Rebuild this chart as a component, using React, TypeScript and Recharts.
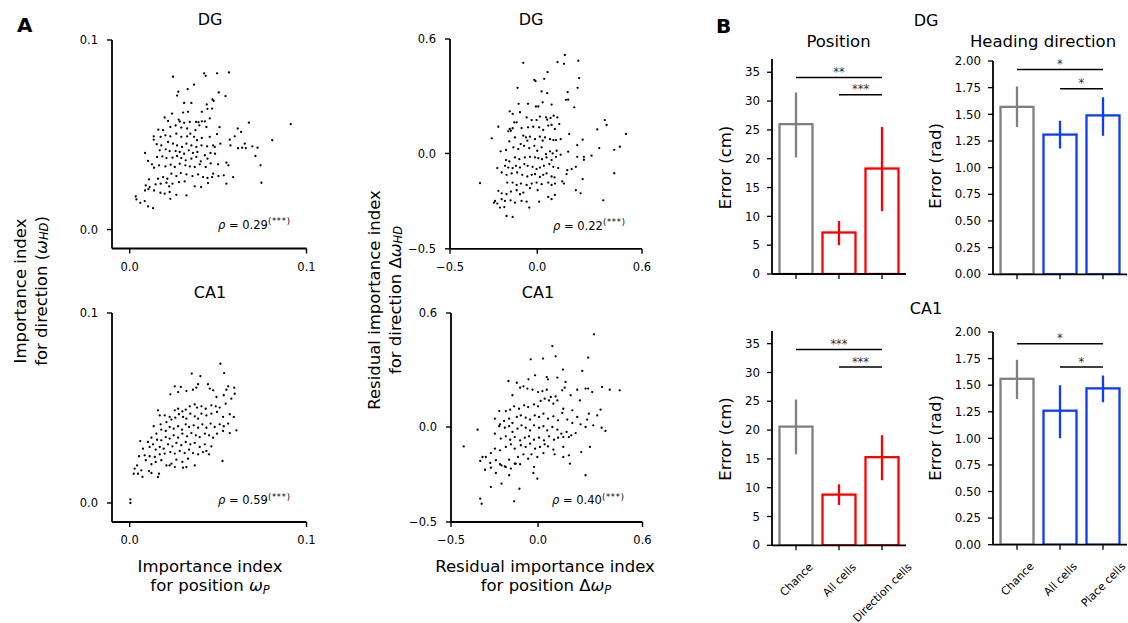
import React from "react";
import { ScatterChart, Scatter, XAxis, YAxis, BarChart, Bar, ReferenceLine } from "recharts";

// scatter points [x, y]
const dgImportance: [number, number][] = [
  [.0245,.0806],[.0421,.0824],[.0430,.0811],[.0494,.0824],[.0562,.0829],[.0364,.0765],[.0328,.0741],[.0275,.0727],[.0268,.0707],[.0504,.0723],
  [.0542,.0704],[.0468,.0686],[.0475,.0679],[.0308,.0668],[.0349,.0668],[.0436,.0660],[.0440,.0637],[.0466,.0638],[.0240,.0612],[.0302,.0617],
  [.0330,.0621],[.0408,.0621],[.0453,.0586],[.0198,.0591],[.0217,.0573],[.0277,.0580],[.0283,.0570],[.0308,.0563],[.0340,.0568],[.0375,.0568],
  [.0389,.0566],[.0408,.0571],[.0425,.0571],[.0674,.0564],[.0911,.0556],[.0162,.0527],[.0189,.0524],[.0230,.0541],[.0260,.0549],[.0292,.0538],
  [.0325,.0533],[.0343,.0506],[.0372,.0524],[.0394,.0550],[.0434,.0541],[.0508,.0540],[.0611,.0533],[.0630,.0515],[.0594,.0492],[.0651,.0453],
  [.0806,.0471],[.0136,.0492],[.0136,.0474],[.0175,.0489],[.0202,.0497],[.0230,.0492],[.0264,.0506],[.0292,.0489],[.0325,.0492],[.0364,.0489],
  [.0381,.0471],[.0408,.0483],[.0453,.0489],[.0494,.0503],[.0566,.0474],[.0472,.0444],[.0153,.0450],[.0179,.0444],[.0217,.0462],[.0245,.0453],
  [.0268,.0444],[.0296,.0436],[.0321,.0453],[.0349,.0444],[.0377,.0436],[.0406,.0444],[.0438,.0439],[.0481,.0436],[.0513,.0453],[.0570,.0444],
  [.0613,.0429],[.0636,.0432],[.0657,.0430],[.0694,.0439],[.0723,.0432],[.0711,.0388],[.0087,.0404],[.0170,.0418],[.0204,.0423],[.0226,.0414],
  [.0260,.0414],[.0283,.0409],[.0308,.0400],[.0334,.0418],[.0358,.0404],[.0383,.0409],[.0425,.0392],[.0457,.0404],[.0483,.0400],[.0155,.0383],
  [.0185,.0386],[.0208,.0377],[.0242,.0379],[.0268,.0388],[.0292,.0377],[.0317,.0365],[.0349,.0374],[.0377,.0383],[.0402,.0360],[.0440,.0374],
  [.0458,.0349],[.0500,.0344],[.0547,.0353],[.0558,.0339],[.0104,.0362],[.0126,.0344],[.0138,.0326],[.0166,.0339],[.0202,.0333],[.0232,.0342],
  [.0255,.0330],[.0283,.0347],[.0315,.0339],[.0340,.0333],[.0368,.0330],[.0396,.0344],[.0430,.0330],[.0472,.0295],[.0502,.0282],[.0532,.0286],
  [.0740,.0339],[.0109,.0265],[.0160,.0268],[.0189,.0277],[.0213,.0268],[.0236,.0295],[.0264,.0282],[.0289,.0298],[.0321,.0291],[.0355,.0282],
  [.0387,.0291],[.0415,.0277],[.0440,.0272],[.0466,.0277],[.0585,.0277],[.0745,.0247],[.0091,.0233],[.0113,.0224],[.0147,.0238],[.0175,.0242],
  [.0208,.0247],[.0223,.0228],[.0242,.0242],[.0279,.0250],[.0311,.0254],[.0368,.0228],[.0404,.0224],[.0443,.0245],[.0547,.0242],[.0087,.0206],
  [.0106,.0213],[.0138,.0206],[.0174,.0194],[.0198,.0189],[.0226,.0198],[.0264,.0183],[.0321,.0180],[.0034,.0175],[.0038,.0159],[.0060,.0141],
  [.0085,.0150],[.0104,.0122],[.0132,.0113],[.0230,.0162],
];

const dgResidual: [number, number][] = [
  [-0.080,0.475],[0.116,0.479],[0.153,0.470],[0.158,0.516],[0.235,0.486],[0.059,0.426],[0.040,0.391],[-0.010,0.379],[-0.017,0.386],[0.240,0.395],
  [-0.113,0.344],[0.025,0.325],[0.057,0.316],[0.174,0.321],[0.231,0.344],[0.164,0.281],[0.177,0.282],[0.212,0.242],[0.082,0.256],[0.031,0.268],
  [-0.008,0.246],[0.006,0.246],[-0.053,0.260],[-0.107,0.260],[-0.158,0.221],[-0.141,0.207],[-0.099,0.216],[-0.061,0.189],[-0.032,0.175],[-0.004,0.175],
  [0.015,0.193],[0.050,0.189],[0.057,0.177],[0.076,0.186],[0.094,0.198],[0.115,0.189],[-0.223,0.140],[-0.158,0.128],[-0.141,0.132],[-0.132,0.163],
  [-0.118,0.163],[-0.090,0.133],[-0.053,0.137],[-0.023,0.140],[0.011,0.137],[0.034,0.123],[0.063,0.146],[0.082,0.149],[0.101,0.128],[0.126,0.154],
  [0.387,0.175],[0.397,0.149],[0.344,0.126],[0.508,0.102],[-0.261,0.079],[-0.166,0.116],[-0.151,0.119],[-0.160,0.063],[-0.128,0.084],[-0.080,0.093],
  [-0.065,0.084],[-0.057,0.067],[-0.042,0.088],[-0.013,0.075],[0.015,0.088],[0.031,0.067],[0.044,0.084],[0.073,0.075],[0.092,0.070],[0.107,0.070],
  [0.134,0.075],[0.183,0.102],[0.260,0.072],[0.229,0.044],[0.355,0.028],[0.473,0.035],[0.441,0.019],[-0.210,0.011],[-0.179,0.018],[-0.137,0.032],
  [-0.109,0.023],[-0.095,0.049],[-0.076,0.040],[-0.046,0.028],[-0.017,0.040],[0.000,0.014],[0.025,0.032],[0.050,-0.004],[0.073,0.011],[0.088,0.000],
  [0.111,0.014],[0.134,-0.007],[0.177,0.009],[0.229,-0.018],[0.267,-0.018],[0.311,-0.012],[0.267,-0.033],[-0.179,-0.035],[-0.160,-0.042],[-0.128,-0.021],
  [-0.103,-0.030],[-0.071,-0.021],[-0.042,-0.018],[-0.013,-0.021],[0.006,-0.025],[0.027,-0.030],[0.053,-0.021],[0.082,-0.035],[0.107,-0.018],[-0.229,-0.077],
  [-0.185,-0.065],[-0.166,-0.074],[-0.141,-0.077],[-0.122,-0.065],[-0.099,-0.074],[-0.074,-0.056],[-0.055,-0.065],[-0.027,-0.070],[-0.004,-0.082],[0.015,-0.074],
  [0.038,-0.065],[0.069,-0.056],[0.092,-0.070],[0.120,-0.077],[0.172,-0.088],[0.197,-0.082],[0.221,-0.070],[-0.328,-0.156],[-0.204,-0.100],[-0.176,-0.112],
  [-0.147,-0.105],[-0.115,-0.100],[-0.086,-0.112],[-0.057,-0.121],[-0.032,-0.112],[-0.013,-0.109],[0.015,-0.123],[0.034,-0.112],[0.053,-0.105],[0.082,-0.121],
  [0.099,-0.126],[0.143,-0.147],[0.153,-0.158],[0.168,-0.109],[0.260,-0.135],[0.441,-0.104],[-0.172,-0.153],[-0.141,-0.153],[-0.118,-0.165],[-0.094,-0.158],
  [-0.061,-0.165],[-0.032,-0.158],[-0.004,-0.153],[0.025,-0.161],[0.063,-0.153],[0.082,-0.165],[0.101,-0.158],[0.221,-0.193],[0.248,-0.209],[-0.223,-0.196],
  [-0.204,-0.209],[-0.176,-0.214],[-0.151,-0.200],[-0.118,-0.193],[-0.080,-0.205],[-0.042,-0.182],[0.002,-0.193],[-0.242,-0.249],[-0.229,-0.263],[-0.204,-0.240],
  [-0.185,-0.249],[-0.153,-0.246],[-0.128,-0.258],[-0.099,-0.214],[-0.090,-0.249],[-0.061,-0.253],[-0.046,-0.284],[0.011,-0.253],[0.063,-0.228],[0.082,-0.240],
  [0.101,-0.218],[0.378,-0.246],[-0.214,-0.284],[-0.189,-0.281],[-0.176,-0.328],[-0.141,-0.333],[-0.248,-0.258],
];

const ca1Importance: [number, number][] = [
  [.0513,.0733],[.0534,.0684],[.0400,.0667],[.0351,.0681],[.0387,.0625],[.0443,.0625],[.0289,.0611],[.0255,.0614],[.0230,.0572],[.0274,.0584],
  [.0321,.0589],[.0358,.0596],[.0377,.0607],[.0453,.0602],[.0472,.0593],[.0557,.0614],[.0547,.0596],[.0591,.0607],[.0594,.0575],[.0491,.0558],
  [.0532,.0567],[.0575,.0549],[.0160,.0488],[.0198,.0461],[.0226,.0453],[.0255,.0488],[.0274,.0496],[.0298,.0482],[.0317,.0491],[.0340,.0509],
  [.0368,.0519],[.0381,.0502],[.0406,.0509],[.0430,.0496],[.0462,.0514],[.0487,.0509],[.0509,.0502],[.0543,.0523],[.0136,.0404],[.0170,.0461],
  [.0175,.0414],[.0208,.0426],[.0236,.0439],[.0258,.0449],[.0279,.0467],[.0302,.0453],[.0321,.0444],[.0343,.0470],[.0368,.0456],[.0387,.0444],
  [.0406,.0470],[.0434,.0461],[.0462,.0470],[.0494,.0479],[.0528,.0453],[.0566,.0467],[.0589,.0453],[.0604,.0382],[.0566,.0368],[.0123,.0344],
  [.0151,.0365],[.0179,.0386],[.0204,.0379],[.0226,.0400],[.0249,.0391],[.0274,.0404],[.0296,.0386],[.0317,.0414],[.0336,.0400],[.0362,.0409],
  [.0387,.0396],[.0411,.0414],[.0434,.0396],[.0458,.0418],[.0481,.0400],[.0509,.0414],[.0532,.0404],[.0557,.0418],[.0060,.0326],[.0104,.0321],
  [.0132,.0309],[.0155,.0333],[.0179,.0330],[.0204,.0347],[.0226,.0339],[.0249,.0356],[.0274,.0344],[.0298,.0365],[.0325,.0351],[.0349,.0368],
  [.0374,.0356],[.0396,.0347],[.0425,.0365],[.0449,.0356],[.0472,.0344],[.0494,.0365],[.0528,.0379],[.0462,.0298],[.0075,.0286],[.0113,.0295],
  [.0147,.0281],[.0170,.0295],[.0192,.0286],[.0217,.0309],[.0242,.0298],[.0264,.0316],[.0292,.0304],[.0317,.0321],[.0343,.0309],[.0368,.0316],
  [.0396,.0295],[.0425,.0309],[.0434,.0274],[.0053,.0246],[.0085,.0251],[.0113,.0246],[.0142,.0242],[.0170,.0256],[.0198,.0260],[.0230,.0268],
  [.0255,.0260],[.0283,.0274],[.0311,.0263],[.0336,.0281],[.0358,.0263],[.0387,.0256],[.0415,.0268],[.0449,.0256],[.0091,.0225],[.0123,.0204],
  [.0147,.0216],[.0179,.0225],[.0208,.0198],[.0236,.0207],[.0264,.0228],[.0298,.0216],[.0330,.0233],[.0368,.0198],[.0525,.0221],[.0028,.0181],
  [.0042,.0198],[.0066,.0172],[.0109,.0168],[.0123,.0158],[.0072,.0137],[.0160,.0137],[.0166,.0154],[.0255,.0189],[.0226,.0198],[.0302,.0186],
  [.0321,.0189],[.0004,.0019],[.0004,.0000],[.0023,.0154],[.0047,.0154],
];

const ca1Residual: [number, number][] = [
  [0.321,0.488],[0.082,0.426],[0.101,0.372],[-0.042,0.356],[0.029,0.360],[0.288,0.365],[0.143,0.302],[0.254,0.295],[-0.170,0.242],[-0.122,0.233],
  [-0.055,0.251],[-0.017,0.272],[0.050,0.263],[0.057,0.251],[0.111,0.260],[0.158,0.237],[0.225,0.196],[0.273,0.202],[0.288,0.202],[0.311,0.184],
  [0.368,0.211],[0.412,0.196],[0.469,0.193],[-0.147,0.167],[-0.103,0.207],[-0.084,0.214],[-0.061,0.202],[-0.032,0.196],[0.000,0.184],[0.025,0.189],
  [0.050,0.196],[0.073,0.158],[0.101,0.161],[0.139,0.193],[0.153,0.207],[0.187,0.167],[0.240,0.140],[0.359,0.091],[0.340,0.061],[0.292,0.070],
  [-0.223,0.084],[-0.185,0.084],[-0.160,0.091],[-0.137,0.109],[-0.109,0.096],[-0.080,0.114],[-0.057,0.105],[-0.023,0.119],[0.000,0.109],[0.015,0.137],
  [0.038,0.149],[0.063,0.140],[0.088,0.123],[0.111,0.140],[0.145,0.096],[0.197,0.088],[0.225,0.053],[0.282,0.039],[0.317,0.009],[0.365,-0.004],
  [0.387,-0.021],[-0.248,0.044],[-0.218,0.014],[-0.195,0.032],[-0.166,0.044],[-0.147,0.021],[-0.122,0.053],[-0.099,0.061],[-0.071,0.049],[-0.046,0.039],
  [-0.019,0.061],[0.006,0.053],[0.031,0.070],[0.057,0.044],[0.088,0.056],[0.115,0.035],[0.139,0.074],[0.168,0.039],[0.197,0.021],[0.244,0.014],
  [0.273,0.000],[-0.347,-0.014],[-0.248,-0.035],[-0.223,0.004],[-0.191,-0.004],[-0.166,0.004],[-0.147,-0.026],[-0.118,-0.009],[-0.095,0.009],[-0.071,-0.004],
  [-0.046,-0.018],[-0.023,0.009],[0.006,-0.004],[0.031,0.004],[0.053,-0.018],[0.082,0.000],[0.111,-0.014],[0.134,-0.035],[0.164,-0.026],[0.191,-0.044],
  [0.216,-0.032],[-0.214,-0.061],[-0.185,-0.049],[-0.160,-0.067],[-0.134,-0.053],[-0.103,-0.070],[-0.076,-0.056],[-0.052,-0.049],[-0.023,-0.067],[0.006,-0.056],
  [0.034,-0.070],[0.063,-0.049],[0.092,-0.067],[0.115,-0.056],[0.145,-0.053],[0.177,-0.053],[-0.427,-0.102],[-0.319,-0.158],[-0.271,-0.137],[-0.248,-0.114],
  [-0.218,-0.123],[-0.185,-0.105],[-0.156,-0.091],[-0.134,-0.114],[-0.099,-0.096],[-0.071,-0.105],[-0.046,-0.088],[-0.017,-0.114],[0.011,-0.105],[0.038,-0.091],
  [0.057,-0.102],[0.088,-0.119],[0.145,-0.105],[0.298,-0.105],[0.248,-0.132],[-0.332,-0.179],[-0.300,-0.158],[-0.275,-0.189],[-0.242,-0.175],[-0.218,-0.196],
  [-0.191,-0.207],[-0.166,-0.172],[-0.134,-0.193],[-0.115,-0.158],[-0.084,-0.144],[-0.057,-0.167],[-0.038,-0.144],[-0.004,-0.158],[0.031,-0.137],[0.095,-0.144],
  [0.145,-0.158],[0.177,-0.149],[0.183,-0.193],[-0.305,-0.225],[-0.271,-0.214],[-0.242,-0.242],[-0.210,-0.202],[-0.185,-0.211],[-0.156,-0.219],[-0.128,-0.193],
  [-0.103,-0.196],[-0.023,-0.211],[-0.027,-0.242],[-0.004,-0.272],[0.273,-0.254],[-0.166,-0.254],[-0.271,-0.316],[-0.210,-0.298],[-0.107,-0.325],[-0.332,-0.377],
  [-0.324,-0.404],[-0.137,-0.391],
];

const importanceTicks = [0, 0.1];
const residualTicks = [-0.5, 0, 0.6];

// bar charts
const posCats = ["Chance", "All cells", "Direction cells"];
const hdCats = ["Chance", "All cells", "Place cells"];
const posColors = ["#808080", "#ff0000", "#ff0000"];
const hdColors = ["#808080", "#0d3bff", "#0d3bff"];

const dgPos = [26.0, 7.2, 18.3];
const dgPosLow = [20.2, 5.0, 10.9];
const dgPosHigh = [31.5, 9.2, 25.5];
const dgHd = [1.57, 1.31, 1.49];
const dgHdLow = [1.38, 1.18, 1.30];
const dgHdHigh = [1.76, 1.44, 1.66];
const ca1Pos = [20.6, 8.8, 15.3];
const ca1PosLow = [15.8, 7.0, 11.3];
const ca1PosHigh = [25.3, 10.6, 19.1];
const ca1Hd = [1.56, 1.26, 1.47];
const ca1HdLow = [1.37, 1.00, 1.34];
const ca1HdHigh = [1.74, 1.50, 1.59];

const posTicks = [0, 5, 10, 15, 20, 25, 30, 35];
const hdTicks = [0, 0.25, 0.5, 0.75, 1, 1.25, 1.5, 1.75, 2];

const dgPosSig = [
  { from: "Chance", to: "Direction cells", y: 34.1, label: "**" },
  { from: "All cells", to: "Direction cells", y: 31.1, label: "***" },
];
const dgHdSig = [
  { from: "Chance", to: "Place cells", y: 1.92, label: "*" },
  { from: "All cells", to: "Place cells", y: 1.74, label: "*" },
];
const ca1PosSig = [
  { from: "Chance", to: "Direction cells", y: 34.0, label: "***" },
  { from: "All cells", to: "Direction cells", y: 30.95, label: "***" },
];
const ca1HdSig = [
  { from: "Chance", to: "Place cells", y: 1.89, label: "*" },
  { from: "All cells", to: "Place cells", y: 1.67, label: "*" },
];

const FONT = "'DejaVu Sans', sans-serif";

function fmt(v: number, d: number) {
  return (v < 0 ? "\u2212" : "") + Math.abs(v).toFixed(d);
}

let measureCtx: CanvasRenderingContext2D | null = null;
function textWidth(s: string, size: number) {
  if (!measureCtx) measureCtx = document.createElement("canvas").getContext("2d");
  if (!measureCtx) return s.length * size * 0.6;
  measureCtx.font = `${size}px "DejaVu Sans"`;
  return measureCtx.measureText(s).width;
}

const Dot = (p: any) => <circle cx={p.cx} cy={p.cy} r={1.15} fill="#000" />;

function ScatterPanel({ points, xDomain, xTicks, yDomain, yTicks, left, top, width, height, yWidth = 40 }: any) {
  const data = points.map(([x, y]: [number, number]) => ({ x, y }));
  const axis = { stroke: "#000", strokeWidth: 1.8 };
  const tl = { stroke: "#000", strokeWidth: 1.4 };
  return (
    <div style={{ position: "absolute", left, top }}>
      <ScatterChart width={width} height={height} margin={{ top: 8, right: 10, bottom: 0, left: 0 }}>
        <XAxis type="number" dataKey="x" domain={xDomain} ticks={xTicks} interval={0} allowDataOverflow
          tickFormatter={(v) => fmt(v, 1)} axisLine={axis} tickLine={tl} tickSize={5} tickMargin={9}
          height={30} tick={{ fill: "#000", fontSize: 11.5 }} />
        <YAxis type="number" dataKey="y" domain={yDomain} ticks={yTicks} interval={0} allowDataOverflow
          tickFormatter={(v) => fmt(v, 1)} axisLine={axis} tickLine={tl} tickSize={5} tickMargin={9}
          width={yWidth} tick={{ fill: "#000", fontSize: 11.5 }} />
        <Scatter data={data} isAnimationActive={false} shape={Dot} />
      </ScatterChart>
    </div>
  );
}

const BarShape = (p: any) => {
  const { x, y, width, height, payload } = p;
  if (!height) return <g />;
  const ppu = height / payload.value;
  const base = y + height;
  const cx = x + width / 2;
  return (
    <g>
      <rect x={x} y={y} width={width} height={height} fill="#fff" stroke={payload.color} strokeWidth={2.3} />
      <line x1={cx} x2={cx} y1={base - payload.low * ppu} y2={base - payload.high * ppu}
        stroke={payload.color} strokeWidth={2.3} />
    </g>
  );
};

const RotTick = (p: any) => {
  const fs = 11;
  const label = String(p.payload.value);
  const w = textWidth(label, fs);
  const h = (w + fs) * 0.7071;
  const cx = p.x + 0.5;
  const cy = p.y + 9 + h / 2;
  return (
    <text x={cx} y={cy} textAnchor="middle" dominantBaseline="central" fontSize={fs} fill="#000"
      transform={`rotate(-45 ${cx} ${cy})`}>{label}</text>
  );
};

function BarPanel({ cats, vals, lows, highs, colors, domain, ticks, digits, sig, left, top, width, height, xHeight, labels, right = 5 }: any) {
  const data = cats.map((c: string, i: number) => ({
    cat: c, value: vals[i], low: lows[i], high: highs[i], color: colors[i],
  }));
  const axis = { stroke: "#000", strokeWidth: 1.8 };
  const tl = { stroke: "#000", strokeWidth: 1.3 };
  return (
    <div style={{ position: "absolute", left, top }}>
      <BarChart width={width} height={height} data={data} margin={{ top: 8, right, bottom: 0, left: 0 }}>
        <XAxis dataKey="cat" interval={0} padding={{ left: 2.5, right: 2.5 }} height={xHeight}
          axisLine={axis} tickLine={tl} tickSize={5} tickMargin={2}
          tick={labels ? (tp: any) => <RotTick {...tp} /> : () => <g />} />
        <YAxis type="number" domain={domain} ticks={ticks} interval={0} allowDataOverflow width={60}
          axisLine={axis} tickLine={tl} tickSize={5} tickMargin={7}
          tickFormatter={(v) => v.toFixed(digits)} tick={{ fill: "#000", fontSize: 11.8 }} />
        <Bar dataKey="value" barSize={33} isAnimationActive={false} shape={BarShape} />
        {sig.map((s: any, i: number) => (
          <ReferenceLine key={i} ifOverflow="visible"
            segment={[{ x: s.from, y: s.y }, { x: s.to, y: s.y }]}
            shape={(lp: any) => (
              <g>
                <line x1={lp.x1} x2={lp.x2} y1={lp.y1} y2={lp.y2} stroke="#000" strokeWidth={1.5} />
                <text x={(lp.x1 + lp.x2) / 2} y={lp.y1 - 1.5} textAnchor="middle" fontSize={11.5} fill="#333">
                  {s.label}
                </text>
              </g>
            )} />
        ))}
      </BarChart>
    </div>
  );
}

function Rho({ x, y, value }: any) {
  return (
    <text x={x} y={y} fontSize={11.5} fill="#000">
      <tspan fontStyle="italic">ρ</tspan> = {value}
      <tspan fontSize={8.3} dy={-4.5} letterSpacing={0.8}>(***)</tspan>
    </text>
  );
}

export default function App() {
  return (
    <div style={{ position: "relative", width: 1128, height: 623, overflow: "hidden", background: "#fff", fontFamily: FONT }}>
      <style>{"body{margin:0}"}</style>

      <ScatterPanel points={dgImportance} xDomain={[-0.01, 0.1]} xTicks={importanceTicks}
        yDomain={[-0.01, 0.1]} yTicks={importanceTicks} left={72} top={32} width={244.5} height={246.5} />
      <ScatterPanel points={dgResidual} xDomain={[-0.5, 0.6]} xTicks={residualTicks}
        yDomain={[-0.5, 0.6]} yTicks={residualTicks} left={400} top={30.7} width={252} height={247.8} yWidth={50} />
      <ScatterPanel points={ca1Importance} xDomain={[-0.01, 0.1]} xTicks={importanceTicks}
        yDomain={[-0.01, 0.1]} yTicks={importanceTicks} left={72} top={304.7} width={244.5} height={247} />
      <ScatterPanel points={ca1Residual} xDomain={[-0.5, 0.6]} xTicks={residualTicks}
        yDomain={[-0.5, 0.6]} yTicks={residualTicks} left={400.5} top={304.7} width={251.5} height={247} yWidth={50} />

      <BarPanel cats={posCats} vals={dgPos} lows={dgPosLow} highs={dgPosHigh} colors={posColors}
        domain={[0, 37.3]} ticks={posTicks} digits={0} sig={dgPosSig}
        left={712} top={51} width={199} height={243} xHeight={20} labels={false} />
      <BarPanel cats={hdCats} vals={dgHd} lows={dgHdLow} highs={dgHdHigh} colors={hdColors}
        domain={[0, 2]} ticks={hdTicks} digits={2} sig={dgHdSig}
        left={933} top={52.7} width={199} height={241.3} xHeight={20} labels={false} />
      <BarPanel cats={posCats} vals={ca1Pos} lows={ca1PosLow} highs={ca1PosHigh} colors={posColors}
        domain={[0, 37.2]} ticks={posTicks} digits={0} sig={ca1PosSig}
        left={712} top={322.7} width={224} height={302.3} xHeight={80} labels={true} right={30} />
      <BarPanel cats={hdCats} vals={ca1Hd} lows={ca1HdLow} highs={ca1HdHigh} colors={hdColors}
        domain={[0, 2]} ticks={hdTicks} digits={2} sig={ca1HdSig}
        left={933} top={324.3} width={224} height={300.7} xHeight={80} labels={true} right={30} />

      <svg width={1128} height={623} style={{ position: "absolute", left: 0, top: 0, pointerEvents: "none" }}
        fontFamily={FONT}>
        <text x={17} y={32} fontSize={20} fontWeight="bold">A</text>
        <text x={716} y={33} fontSize={20} fontWeight="bold">B</text>

        <g fontSize={16} textAnchor="middle">
          <text x={210} y={25}>DG</text>
          <text x={531} y={25}>DG</text>
          <text x={210} y={298}>CA1</text>
          <text x={538} y={298}>CA1</text>
          <text x={926} y={26}>DG</text>
          <text x={926} y={313.5}>CA1</text>
        </g>

        <g fontSize={16.5} textAnchor="middle">
          <text x={838.5} y={46.5}>Position</text>
          <text x={1043} y={46.5}>Heading direction</text>
        </g>

        <Rho x={218} y={228.5} value="0.29" />
        <Rho x={553} y={229.5} value="0.22" />
        <Rho x={218} y={504} value="0.59" />
        <Rho x={552} y={504} value="0.40" />

        <g fontSize={16.5} textAnchor="middle" dominantBaseline="central">
          <text x={20} y={291} transform="rotate(-90 20 291)">Importance index</text>
          <text x={41} y={291} transform="rotate(-90 41 291)">
            for direction (<tspan fontStyle="italic">ω</tspan>
            <tspan fontStyle="italic" fontSize={11.5} dy={3}>HD</tspan>
            <tspan dy={-3}>)</tspan>
          </text>
          <text x={374} y={300} transform="rotate(-90 374 300)">Residual importance index</text>
          <text x={395} y={300} transform="rotate(-90 395 300)">
            for direction Δ<tspan fontStyle="italic">ω</tspan>
            <tspan fontStyle="italic" fontSize={11.5} dy={3}>HD</tspan>
          </text>

          <text x={725.5} y={167.5} transform="rotate(-90 725.5 167.5)">Error (cm)</text>
          <text x={935} y={166} transform="rotate(-90 935 166)">Error (rad)</text>
          <text x={725.5} y={439} transform="rotate(-90 725.5 439)">Error (cm)</text>
          <text x={935} y={438} transform="rotate(-90 935 438)">Error (rad)</text>
        </g>

        <g fontSize={16.5} textAnchor="middle">
          <text x={210} y={572}>Importance index</text>
          <text x={210} y={591}>
            for position <tspan fontStyle="italic">ω</tspan>
            <tspan fontStyle="italic" fontSize={11.5} dy={3}>P</tspan>
          </text>
          <text x={545} y={572}>Residual importance index</text>
          <text x={546} y={591}>
            for position Δ<tspan fontStyle="italic">ω</tspan>
            <tspan fontStyle="italic" fontSize={11.5} dy={3}>P</tspan>
          </text>
        </g>
      </svg>
    </div>
  );
}
